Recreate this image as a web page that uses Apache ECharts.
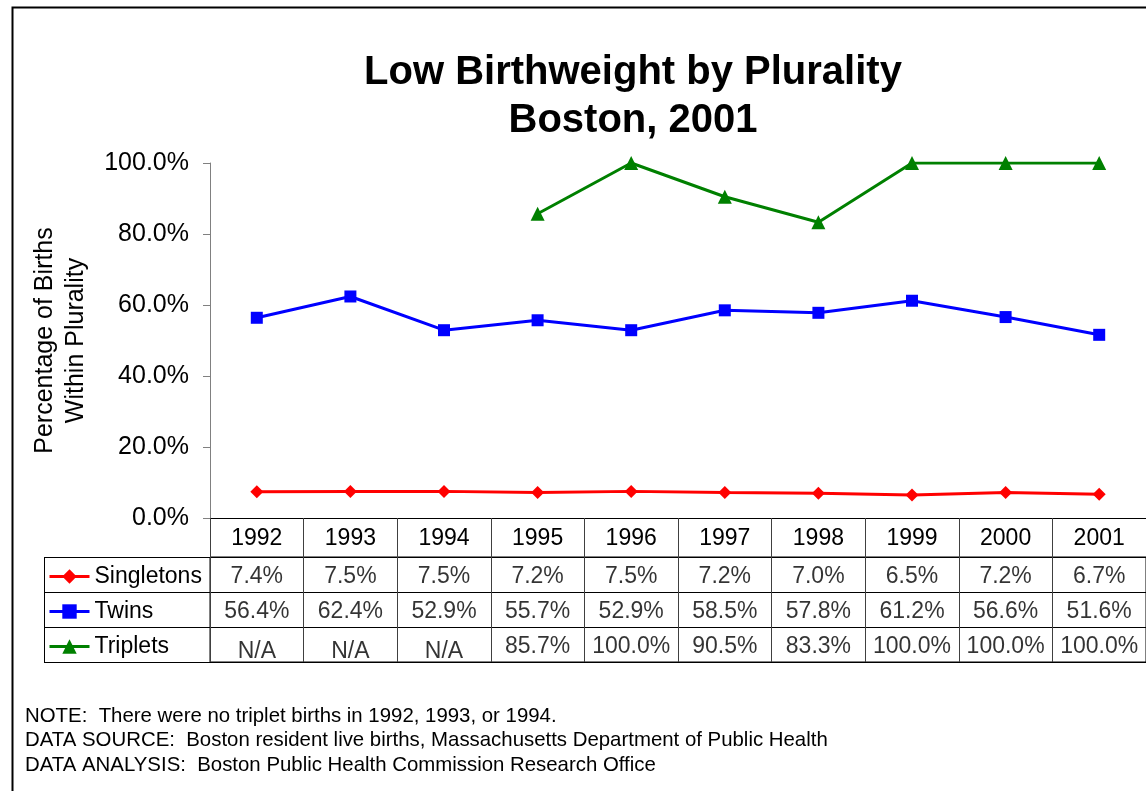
<!DOCTYPE html>
<html>
<head>
<meta charset="utf-8">
<script src="https://cdn.jsdelivr.net/npm/echarts@6/dist/echarts.min.js"></script>
<style>
  html, body { margin: 0; padding: 0; background: #fff; }
  #chart { width: 1146px; height: 791px; }
</style>
</head>
<body>
<div id="chart"></div>
<script>
// Low birthweight percentages by plurality, Boston 1992-2001
const years = ['1992', '1993', '1994', '1995', '1996', '1997', '1998', '1999', '2000', '2001'];
const singletons = [7.4, 7.5, 7.5, 7.2, 7.5, 7.2, 7.0, 6.5, 7.2, 6.7];
const twins = [56.4, 62.4, 52.9, 55.7, 52.9, 58.5, 57.8, 61.2, 56.6, 51.6];
const triplets = [null, null, null, 85.7, 100.0, 90.5, 83.3, 100.0, 100.0, 100.0];
const seriesNames = ['Singletons', 'Twins', 'Triplets'];
const yTicks = [0, 20, 40, 60, 80, 100];
const notes = [
  'NOTE:  There were no triplet births in 1992, 1993, or 1994.',
  'DATA SOURCE:  Boston resident live births, Massachusetts Department of Public Health',
  'DATA ANALYSIS:  Boston Public Health Commission Research Office'
];

const FONT = '"Liberation Sans", Arial, Helvetica, sans-serif';
const colors = ['#ff0000', '#0000ff', '#008000'];
const symbols = ['diamond', 'rect', 'triangle'];
const symbolSizes = [13, 12, 14];
const allSeries = [singletons, twins, triplets];

// cells of the data table: [column, row, value]
const cells = [];
allSeries.forEach((vals, r) => {
  vals.forEach((v, c) => cells.push([c, r, v]));
});

const chart = echarts.init(document.getElementById('chart'), null, { renderer: 'canvas' });

const option = {
  backgroundColor: '#ffffff',
  animation: false,
  textStyle: { fontFamily: FONT, color: '#000' },
  title: {
    text: 'Low Birthweight by Plurality\nBoston, 2001',
    left: 628,
    top: 44,
    textAlign: 'center',
    textStyle: { fontFamily: FONT, fontSize: 40, fontWeight: 'bold', color: '#000', lineHeight: 48 }
  },
  legend: {
    data: seriesNames,
    orient: 'vertical',
    left: 48,
    top: 565,
    padding: 0,
    itemWidth: 40,
    itemHeight: 18,
    itemGap: 12,
    selectedMode: false,
    lineStyle: { width: 3 },
    textStyle: { fontFamily: FONT, fontSize: 23, color: '#000', lineHeight: 23 }
  },
  grid: [
    { left: 210, top: 163, width: 937, height: 355 },
    { left: 210, top: 557, width: 937, height: 105, show: true, borderColor: '#000', borderWidth: 1, backgroundColor: 'transparent' }
  ],
  xAxis: [
    {
      type: 'category', gridIndex: 0, data: years, boundaryGap: true,
      axisLine: { show: true, lineStyle: { color: '#000', width: 1 } },
      axisTick: { show: true, interval: 0, length: 39, lineStyle: { color: '#404040' } },
      axisLabel: { show: true, interval: 0, margin: 9, fontSize: 23, fontFamily: FONT, color: '#000' }
    },
    {
      type: 'category', gridIndex: 1, data: years, boundaryGap: true,
      axisLine: { show: false }, axisTick: { show: false }, axisLabel: { show: false },
      splitLine: { show: true, interval: 0, lineStyle: { color: '#404040', width: 1 } }
    }
  ],
  yAxis: [
    {
      type: 'value', gridIndex: 0, min: 0, max: 100, interval: 20,
      name: 'Percentage of Births\nWithin Plurality',
      nameLocation: 'middle', nameRotate: 90, nameGap: 118,
      nameTextStyle: { fontFamily: FONT, fontSize: 25, color: '#000', lineHeight: 31 },
      axisLine: { show: true, lineStyle: { color: '#808080', width: 1 } },
      axisTick: { show: true, inside: false, length: 7, lineStyle: { color: '#808080' } },
      splitLine: { show: false },
      axisLabel: {
        margin: 21, fontSize: 25, fontFamily: FONT, color: '#000',
        formatter: v => yTicks.indexOf(v) >= 0 ? v.toFixed(1) + '%' : ''
      }
    },
    {
      type: 'category', gridIndex: 1, data: seriesNames, inverse: true, boundaryGap: true,
      axisLine: { show: false }, axisLabel: { show: false },
      axisTick: { show: true, interval: 0, length: 166, lineStyle: { color: '#000' } },
      splitLine: { show: true, interval: 0, lineStyle: { color: '#000', width: 1 } }
    }
  ],
  series: [
    ...allSeries.map((vals, i) => ({
      name: seriesNames[i],
      type: 'line',
      xAxisIndex: 0, yAxisIndex: 0,
      data: vals,
      symbol: symbols[i],
      symbolSize: symbolSizes[i],
      showAllSymbol: true,
      connectNulls: false,
      lineStyle: { color: colors[i], width: 3 },
      itemStyle: { color: colors[i] },
      z: 3 + i
    })),
    {
      name: 'table',
      type: 'scatter',
      xAxisIndex: 1, yAxisIndex: 1,
      data: cells,
      symbolSize: 1,
      itemStyle: { color: 'transparent' },
      silent: true,
      label: {
        show: true,
        position: 'inside',
        offset: [0, 2],
        fontFamily: FONT,
        fontSize: 23,
        color: '#000',
        formatter: p => p.value[2] == null ? '{na|N/A}' : p.value[2].toFixed(1) + '%',
        rich: { na: { fontFamily: FONT, fontSize: 23, color: '#000', padding: [10, 0, 0, 0] } }
      }
    }
  ],
  graphic: [
    // outer frame
    { type: 'rect', shape: { x: 12.5, y: 7.5, width: 1200, height: 900 }, style: { fill: 'none', stroke: '#000', lineWidth: 2 }, silent: true },
    // left border of the legend column
    { type: 'line', shape: { x1: 44.5, y1: 557, x2: 44.5, y2: 662 }, style: { stroke: '#000', lineWidth: 1 }, silent: true },
    ...notes.map((t, i) => ({
      type: 'text', x: 25, y: 706 + i * 24.5,
      style: { text: t, font: '20.4px ' + FONT, fill: '#000' }, silent: true
    }))
  ]
};

chart.setOption(option);
</script>
</body>
</html>
